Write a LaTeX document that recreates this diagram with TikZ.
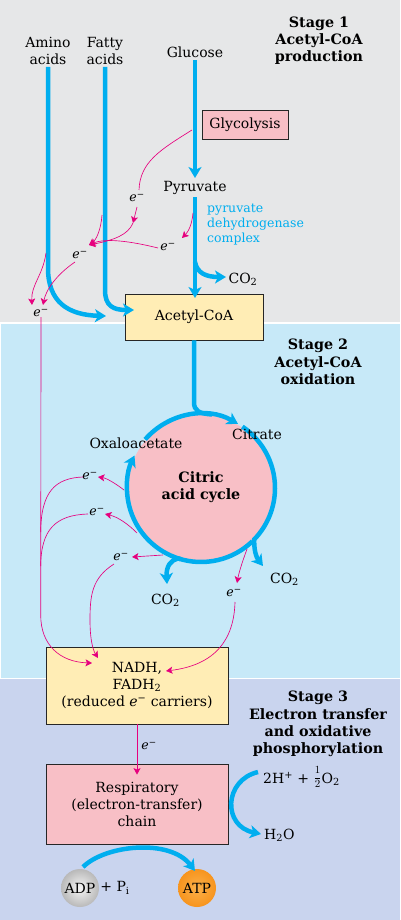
\documentclass[tikz,border=0pt]{standalone}
\usepackage{fontspec}
\setmainfont{DejaVu Serif}
\usetikzlibrary{arrows.meta,calc}
\definecolor{bgone}{HTML}{E6E7E8}
\definecolor{bgtwo}{HTML}{C7E9F8}
\definecolor{bgthree}{HTML}{C9D4EE}
\definecolor{cyanarr}{HTML}{00AEEF}
\definecolor{magarr}{HTML}{E6007E}
\definecolor{boxyel}{HTML}{FFEDB5}
\definecolor{boxpink}{HTML}{F8BFC6}
\definecolor{atporange}{HTML}{F7941D}
\definecolor{atplight}{HTML}{FBB04A}
\newcommand{\elec}{\textit{e}\textsuperscript{−}}
\newcommand{\halffrac}{\raisebox{0.4ex}{\fontsize{11}{11}\selectfont$\displaystyle\frac{1}{2}$}}
\tikzset{
  bluearrow/.style={draw=cyanarr, line width=4.5pt, -{Stealth[length=11pt,width=13pt,inset=3pt]}},
  blueline/.style={draw=cyanarr, line width=4.5pt},
  magarrow/.style={draw=magarr, line width=0.65pt, -{Stealth[length=6.5pt,width=7pt,inset=1.5pt]}},
  magline/.style={draw=magarr, line width=0.65pt},
  txt/.style={font=\fontsize{14}{17}\selectfont, inner sep=0pt, align=center},
  stagetxt/.style={font=\fontsize{14.3}{17.3}\selectfont\bfseries, inner sep=0pt, align=center},
  elbl/.style={font=\fontsize{12.5}{14}\selectfont, inner sep=0pt},
  pdhtxt/.style={font=\fontsize{12.5}{15}\selectfont, text=cyanarr, inner sep=0pt, align=left},
  procbox/.style={draw=black!85, line width=0.8pt, inner sep=0pt, align=center, font=\fontsize{14}{17}\selectfont},
}
\begin{document}
\begin{tikzpicture}[x=1pt,y=-1pt]
\useasboundingbox (0,0) rectangle (400,920);
% backgrounds
\fill[white] (0,0) rectangle (400,920);
\fill[bgone] (0,0) rectangle (400,322);
\fill[bgtwo] (1,323.5) rectangle (400,677.5);
\fill[bgthree] (0,679) rectangle (400,920);

% stage labels
\node[stagetxt] (s1) at (319,40.5) {Stage 1\\Acetyl-CoA\\production};
\node[stagetxt] (s2) at (318,362) {Stage 2\\Acetyl-CoA\\oxidation};
\node[stagetxt] (s3) at (318,724) {Stage 3\\Electron transfer\\and oxidative\\phosphorylation};

% stage 1 nodes
\node[txt] (amino) at (48,51) {Amino\\acids};
\node[txt] (fatty) at (105,51) {Fatty\\acids};
\node[txt] (glucose) at (195,52) {Glucose};
\node[procbox, fill=boxpink, minimum width=86, minimum height=29] (glyc) at (245,124.5) {Glycolysis};
\node[txt] (pyruvate) at (195,188) {Pyruvate};
\node[pdhtxt, anchor=north west] (pdh) at (207,204) {pyruvate\\dehydrogenase\\complex};
\node[procbox, fill=boxyel, minimum width=138, minimum height=46] (acoa) at (194,317) {Acetyl-CoA};
\node[txt] (co2a) at (243,279) {CO\textsubscript{2}};

% stage 2 nodes
\coordinate (cc) at (201,488);
\node[circle, fill=boxpink, minimum size=146, inner sep=0pt] (cyc) at (cc) {};
\node[stagetxt] (cyctxt) at (201,487) {Citric\\acid cycle};
\node[txt] (co2b) at (165.5,600) {CO\textsubscript{2}};
\node[txt] (co2c) at (284.5,579) {CO\textsubscript{2}};

% stage 3 nodes
\node[procbox, fill=boxyel, minimum width=182, minimum height=77] (nadh) at (137,685.5) {NADH,\\FADH\textsubscript{2}\\(reduced \elec{} carriers)};
\node[procbox, fill=boxpink, minimum width=182, minimum height=80] (resp) at (137,804) {Respiratory\\(electron-transfer)\\chain};
\node[txt, anchor=west] (oxy) at (263,777) {2H\textsuperscript{+} + \halffrac O\textsubscript{2}};
\node[txt, anchor=west] (water) at (264,835) {H\textsubscript{2}O};
\node[circle, minimum size=38, inner sep=0pt, shading=radial, inner color=gray!8, outer color=gray!55, txt] (adp) at (80,888) {ADP};
\node[txt] (pi) at (115,888) {+ P\textsubscript{i}};
\node[circle, minimum size=38, inner sep=0pt, shading=radial, inner color=atplight, outer color=atporange, txt] (atp) at (197,888) {ATP};

% ---------- blue pathways ----------
\coordinate (aminotop) at (48,67);
\coordinate (aminotip) at (106,316);
\coordinate (fattytop) at (105,67);
\coordinate (fattytip) at (134,310);
\draw[bluearrow] (aminotop) -- (48,268) .. controls (48,302) and (68,315) .. (aminotip);
\draw[bluearrow] (fattytop) -- (105,290) .. controls (105,306) and (113,310) .. (fattytip);
\coordinate (glutop) at (195,60);
\coordinate (glutip) at (195,178);
\draw[bluearrow] (glutop) -- (glutip);
\coordinate (pyrbot) at (195,197);
\coordinate (acoatip) at (195,298);
\draw[bluearrow] (pyrbot) -- (acoatip);
\coordinate (co2abr) at (195,262);
\coordinate (co2atip) at (226,277);
\draw[bluearrow] (co2abr) .. controls (197,273) and (206,277) .. (co2atip);

% cycle
\draw[blueline] (acoa.south) -- (194,402) .. controls (194,411) and (199,413.5) .. (212,414.5);
\draw[bluearrow] ($(cc)+(-139:74)$) arc[start angle=-139, end angle=-60, radius=74];
\coordinate (co2ctip) at (263,566);
\draw[bluearrow] ($(cc)+(-56:74)$) arc[start angle=-56, end angle=44, radius=74] .. controls (254,550) and (256,557) .. (co2ctip);
\coordinate (co2btip) at (167,584);
\draw[bluearrow] ($(cc)+(46:74)$) arc[start angle=46, end angle=108, radius=74] .. controls (171,560) and (166,566) .. (co2btip);
\draw[bluearrow] ($(cc)+(106:74)$) arc[start angle=106, end angle=206, radius=74];

% stage 3 blue
\coordinate (oxyst) at (258,772);
\coordinate (watertip) at (261,834);
\draw[bluearrow] (oxyst) .. controls (224,780) and (222,826) .. (watertip);
\coordinate (adpst) at (83,867);
\coordinate (atptip) at (195,871);
\draw[bluearrow] (adpst) .. controls (105,845) and (170,838) .. (atptip);

% ---------- magenta electron paths: stage 1 ----------
\node[elbl] (e1) at (137,198) {\elec};
\node[elbl] (e2) at (168,247) {\elec};
\node[elbl] (e3) at (80,255) {\elec};
\node[elbl] (e4) at (41,313) {\elec};
\coordinate (g1) at (192,130);
\draw[magline] (g1) .. controls (160,150) and (140,162) .. (139,190);
\coordinate (m1tip) at (133,223);
\coordinate (mjoin) at (89,245);
\draw[magarrow] (137,207) -- (m1tip);
\draw[magarrow] (m1tip) .. controls (128,235) and (114,240) .. (mjoin);
\coordinate (p1) at (193,213);
\coordinate (p1tip) at (182,238);
\draw[magarrow] (p1) .. controls (192,225) and (188,232) .. (p1tip);
\draw[magarrow] (158,248) .. controls (130,241) and (105,238) .. (mjoin);
\coordinate (f1) at (102,215);
\draw[magarrow] (f1) .. controls (101,230) and (96,240) .. (mjoin);
\coordinate (e3tip) at (43,305);
\draw[magarrow] (75,262) .. controls (56,275) and (46,290) .. (e3tip);
\coordinate (am1) at (46,253);
\coordinate (am1tip) at (32,305);
\draw[magarrow] (am1) .. controls (43,275) and (31,285) .. (am1tip);

% ---------- magenta: stage 2 ----------
\node[elbl] (e5) at (90,476) {\elec};
\node[elbl] (e6) at (97,512) {\elec};
\node[elbl] (e7) at (121,557) {\elec};
\node[elbl] (e8) at (234,593) {\elec};
\coordinate (nadhA) at (92,663);
\coordinate (nadhB) at (98,658);
\coordinate (nadhC) at (166,671);
\draw[magarrow] (e4.south) -- (40.7,615) .. controls (40.7,645) and (60,662) .. (nadhA);
\draw[magarrow] (124,490) .. controls (115,483) and (106,478) .. (98,477);
\draw[magline] (83,477) .. controls (55,478) and (41,492) .. (40.7,532);
\draw[magarrow] (137,533) .. controls (128,524) and (118,517) .. (105,514);
\draw[magline] (88,514) .. controls (55,515) and (41,530) .. (40.7,566);
\draw[magarrow] (163,555) -- (132,557);
\draw[magarrow] (114,564) .. controls (92,578) and (90,595) .. (90,620) .. controls (90,640) and (93,650) .. (nadhB);
\draw[magarrow] (247,549) .. controls (243,560) and (239,572) .. (237,583);
\draw[magarrow] (235,602) .. controls (234,640) and (215,665) .. (nadhC);

% ---------- stage 3 electron ----------
\node[elbl] (e9) at (149,746) {\elec};
\draw[magarrow] (nadh.south) -- ([yshift=-11pt]resp.north);

% labels on top
\node[txt] (citrate) at (257,434) {Citrate};
\node[txt] (oxa) at (136,443) {Oxaloacetate};
\end{tikzpicture}
\end{document}
